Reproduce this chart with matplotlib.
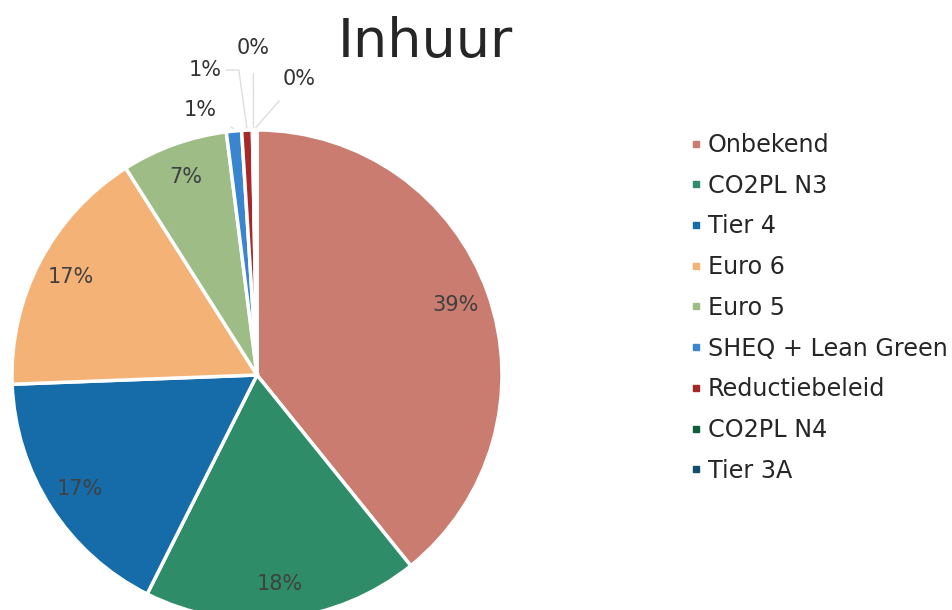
import numpy as np
import matplotlib.pyplot as plt
from matplotlib.lines import Line2D

# Data
labels = ["Onbekend", "CO2PL N3", "Tier 4", "Euro 6", "Euro 5",
          "SHEQ + Lean Green", "Reductiebeleid", "CO2PL N4", "Tier 3A"]
shares = [39.2, 18.2, 17.0, 16.6, 7.0, 1.0, 0.7, 0.15, 0.15]
colors = ["#CB7C70", "#2E8D68", "#156CA9", "#F5B277", "#9EBC86",
          "#3A85D0", "#A8282A", "#0F5E3B", "#134E6E"]

# outside label placement for the tiny slices:
# index -> (text pos in pie units, connection style, shrinkA, shrinkB)
outside_pos = {
    5: ((-0.23, 1.08), "arc3", 9, 14),
    6: ((-0.21, 1.245), "angle,angleA=0,angleB=98,rad=0", 1, 0),
    7: ((-0.015, 1.335), "arc3", 9, 0),
    8: ((0.17, 1.21), "arc3", 9, 0),
}

W, H = 952, 610
fig = plt.figure(figsize=(W / 100, H / 100), dpi=100)
fig.patch.set_facecolor("white")

R = 245
cx, cy = 257, 375
ax = fig.add_axes([(cx - R) / W, (H - cy - R) / H, 2 * R / W, 2 * R / H])

total = sum(shares)
pct_text = [f"{round(v / total * 100):.0f}%" for v in shares]

wedges, _ = ax.pie(shares, colors=colors, startangle=90, counterclock=False,
                   radius=1, wedgeprops=dict(edgecolor="white", linewidth=2.5))
ax.set_xlim(-1, 1)
ax.set_ylim(-1, 1)
ax.set_aspect("equal")
ax.axis("off")

for i, w in enumerate(wedges):
    mid = np.deg2rad((w.theta1 + w.theta2) / 2)
    if i in outside_pos:
        (tx, ty), conn, shrink_a, shrink_b = outside_pos[i]
        ex, ey = np.cos(mid) * 1.01, np.sin(mid) * 1.01
        ax.annotate(pct_text[i], xy=(ex, ey), xytext=(tx, ty),
                    ha="center", va="center", fontsize=15, color="#333333",
                    annotation_clip=False,
                    arrowprops=dict(arrowstyle="-", color="#dedede", lw=1,
                                    shrinkA=shrink_a, shrinkB=shrink_b,
                                    connectionstyle=conn))
    else:
        r = 0.86
        ax.text(np.cos(mid) * r, np.sin(mid) * r, pct_text[i],
                ha="center", va="center", fontsize=15, color="#404040")

fig.text(425 / W, 1 - 57 / H, "Inhuur", ha="center", va="baseline",
         fontsize=39, color="#262626")

handles = [Line2D([], [], marker="s", linestyle="", color=c, markersize=5) for c in colors]
fig.legend(handles, labels, loc="upper left", bbox_to_anchor=(679 / W, 1 - 121 / H),
           frameon=False, fontsize=17.2, handlelength=0.4, handletextpad=0.3,
           labelspacing=0.70, borderpad=0, labelcolor="#262626")

fig.savefig("out.png", dpi=100)
